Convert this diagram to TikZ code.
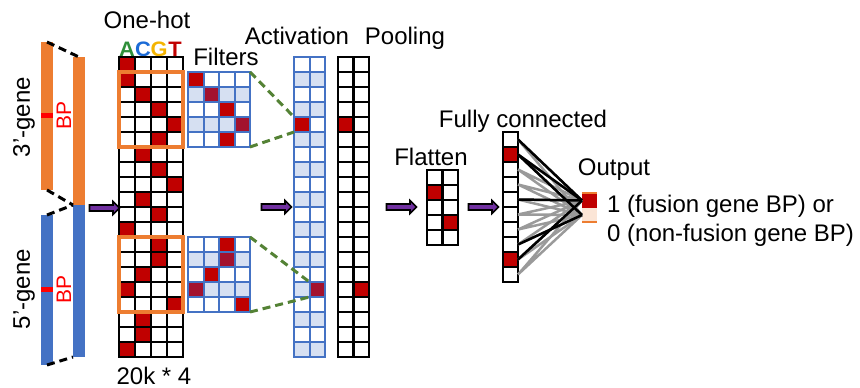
\documentclass[tikz,border=0pt]{standalone}
\usepackage{fontspec}
\setmainfont{Liberation Sans}
\usepackage{xcolor}
\usepackage{tikz}
\usetikzlibrary{calc,positioning,shapes.arrows}
\definecolor{genor}{HTML}{ED7D31}
\definecolor{genbl}{HTML}{4472C4}
\definecolor{hotr}{HTML}{C00000}
\definecolor{dimr}{HTML}{A3122E}
\definecolor{pale}{HTML}{D6E0F2}
\definecolor{grn}{HTML}{548235}
\definecolor{purp}{HTML}{7030A0}
\definecolor{peach}{HTML}{FBE5D6}
\definecolor{bpred}{HTML}{FF0000}
\definecolor{fcg}{HTML}{9A9A9A}
\definecolor{logoA}{HTML}{2F8F3A}
\definecolor{logoC}{HTML}{1C6BD6}
\definecolor{logoG}{HTML}{F4B400}
\tikzset{
  cell/.style={draw=black,line width=2.4pt,minimum width=15.5pt,minimum height=15pt,inner sep=0pt,outer sep=0pt},
  bcell/.style={cell,draw=genbl,line width=2pt},
  bar/.style={minimum width=12pt,inner sep=0pt,outer sep=0pt},
  fwd/.style={single arrow,draw=black,fill=purp,line width=1.6pt,minimum height=30pt,single arrow head extend=3.5pt,inner sep=2.2pt},
  gap/.style={black,line width=3pt,dash pattern=on 8pt off 5pt},
  link/.style={grn,line width=3pt,dash pattern=on 8pt off 5pt},
  wire/.style={fcg,line width=2.5pt},
  lbl/.style={anchor=base,inner sep=0pt}
}
\begin{document}
\begin{tikzpicture}[x=1pt,y=-1pt,font=\fontsize{24}{28}\selectfont]
\useasboundingbox (0,0) rectangle (860,388);
% gene segments: 3' part on top, 5' part below
\node[bar,fill=genor,minimum height=148pt] (g3a) at (47,116) {};
\node[bar,fill=genbl,minimum height=150pt] (g5a) at (47,290) {};
\node[bar,fill=genor,minimum height=148pt] (g3b) at (79,131) {};
\node[bar,fill=genbl,minimum height=152pt] (g5b) at (79,281) {};
\draw[gap] (g3a.north) -- (g3b.north);
\draw[gap] (g3a.south) -- (g3b.south west);
\draw[gap] (g5a.north) -- (g5b.north west);
\draw[gap] (g5a.south) -- (g5b.south west);
\fill[bpred] (41,113) rectangle (53,118);
\fill[bpred] (41,287) rectangle (53,292);
\node[rotate=90,text=bpred,font=\fontsize{21}{22}\selectfont] (bp3) at (64,115) {BP};
\node[rotate=90,text=bpred,font=\fontsize{21}{22}\selectfont] (bp5) at (64,289) {BP};
\node[rotate=90] (lab3) at (24,117) {3’-gene};
\node[rotate=90] (lab5) at (24,289) {5’-gene};

% one-hot matrix, 20 positions x 4 bases
\node[lbl] (ohtxt) at (147,28) {One-hot};
\foreach \b/\bc [count=\c from 0] in {A/logoA,C/logoC,G/logoG,T/hotr}
  \node[lbl,text=\bc,font=\fontsize{19}{19}\selectfont\bfseries,xscale=1.15,yscale=1.1] (base\b) at ({127+16*\c},56) {\b};
\foreach \h [count=\r from 0] in {0,0,1,2,3,2,1,2,3,1,2,0,2,2,1,0,3,1,1,0}
  \fill[hotr] ({119+16*\h},{57+15*\r}) rectangle ++(16,15);
\foreach \r in {0,...,19}
  \foreach \c in {0,...,3}
    \node[cell,minimum width=16pt] (oh-\r-\c) at ({127+16*\c},{64.5+15*\r}) {};
\draw[genor,line width=3.5pt] (oh-1-0.north west) rectangle (oh-5-3.south east);
\draw[genor,line width=3.5pt] (oh-12-0.north west) rectangle (oh-16-3.south east);
\node[lbl] (ohsize) at (154,384) {20k * 4};

% filters
\node[lbl] (ftxt) at (226,65) {Filters};
\foreach \top in {72,237}
  \foreach \r in {1,3} \fill[pale] (188,{\top+15*\r}) rectangle ++(62,15);
\foreach \top/\r/\c/\col in {72/0/0/hotr,72/1/1/dimr,72/2/2/hotr,72/3/3/dimr,72/4/2/hotr,
    237/0/2/hotr,237/1/2/dimr,237/2/1/hotr,237/3/0/dimr,237/4/3/hotr}
  \fill[\col] ({188+15.5*\c},{\top+15*\r}) rectangle ++(15.5,15);
\foreach \r in {0,...,4}
  \foreach \c in {0,...,3}{
    \node[bcell] (fu-\r-\c) at ({195.75+15.5*\c},{79.5+15*\r}) {};
    \node[bcell] (fl-\r-\c) at ({195.75+15.5*\c},{244.5+15*\r}) {};
  }

% activation and pooling columns
\node[lbl] (acttxt) at (297,45) {Activation};
\node[lbl] (pooltxt) at (405,45) {Pooling};
\foreach \r in {1,3,...,19} \fill[pale] (294,{57+15*\r}) rectangle ++(31,15);
\fill[hotr] (294,117) rectangle ++(15.5,15);
\fill[dimr] (309.5,282) rectangle ++(15.5,15);
\fill[hotr] (338,117) rectangle ++(15.5,15);
\fill[hotr] (353.5,282) rectangle ++(15.5,15);
\foreach \r in {0,...,19}
  \foreach \c in {0,1}{
    \node[bcell] (act-\r-\c) at ({301.75+15.5*\c},{64.5+15*\r}) {};
    \node[cell] (pool-\r-\c) at ({345.75+15.5*\c},{64.5+15*\r}) {};
  }
\draw[link] (fu-0-3.north east) -- (act-4-0.north west);
\draw[link] (fu-4-3.south east) -- (act-4-0.south west);
\draw[link] (fl-0-3.north east) -- (act-15-1.north west);
\draw[link] (fl-4-3.south east) -- (act-15-1.south west);

% flatten
\node[lbl] (fltxt) at (431,165) {Flatten};
\fill[hotr] (427,185) rectangle ++(15.5,15);
\fill[hotr] (442.5,215) rectangle ++(15.5,15);
\foreach \r in {0,...,4}
  \foreach \c in {0,1}
    \node[cell] (fl\r\c) at ({434.75+15.5*\c},{177.5+15*\r}) {};

% fully connected layer and output
\node[lbl] (fctxt) at (523,127) {Fully connected};
\fill[hotr] (503,147) rectangle ++(15,15);
\fill[hotr] (503,252) rectangle ++(15,15);
\foreach \r in {0,...,9}
  \node[cell,minimum width=15pt] (fc-\r) at (510.5,{139.5+15*\r}) {};
\node[fill=hotr,minimum width=15pt,minimum height=15pt,inner sep=0pt,outer sep=0pt] (out1) at (589.5,200.5) {};
\node[fill=peach,minimum width=15pt,minimum height=14pt,inner sep=0pt,outer sep=0pt] (out0) at (589.5,215) {};
\foreach \r in {0,...,9}
  \draw[wire] (fc-\r.east) -- (out1.west) (fc-\r.east) -- (out0.west);
\foreach \r/\o in {0/out1,1/out1,1/out0,4/out1,7/out0,8/out1}
  \draw[wire,black] (fc-\r.east) -- (\o.west);
\draw[genor,line width=2.5pt] (out1.north west) -- (out1.north east);
\draw[genor,line width=2.5pt] (out0.south west) -- (out0.south east);
\node[lbl] (outtxt) at (614,175) {Output};
\node[lbl,anchor=base west] (one) at (607,212) {1 (fusion gene BP) or};
\node[lbl,anchor=base west] (zero) at (607,241) {0 (non-fusion gene BP)};

% arrows between stages
\node[fwd] (ar1) at (103,208) {};
\node[fwd] (ar2) at (275,207) {};
\node[fwd] (ar3) at (400,207) {};
\node[fwd] (ar4) at (482,207) {};
\end{tikzpicture}
\end{document}
